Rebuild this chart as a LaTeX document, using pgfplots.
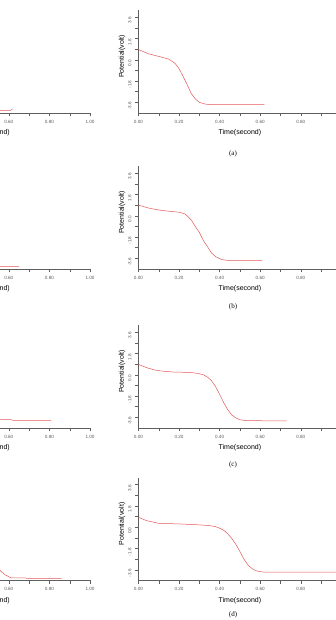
\documentclass[border=0pt]{standalone}
\usepackage{pgfplots}
\pgfplotsset{compat=1.18}
\usepackage{fontspec}
\setmainfont{Liberation Sans}
\newfontfamily\capfont{Liberation Serif}

\definecolor{curve}{RGB}{228,88,88}
\definecolor{axisgray}{RGB}{95,95,95}
\definecolor{ticktext}{RGB}{90,90,90}

\tikzset{capstyle/.style={font=\capfont\fontsize{7}{8}\selectfont}}

\pgfplotsset{
  panel/.style={
    scale only axis, width=203pt, height=103pt,
    xmin=0, xmax=1, ymin=-4.5, ymax=4.2,
    axis x line=bottom, axis y line=left,
    axis line style={draw=axisgray, line width=0.5pt, -},
    tick align=outside, major tick length=3.5pt, minor tick length=3.5pt,
    every tick/.style={draw=axisgray, line width=0.4pt},
    xtick={0,0.2,0.4,0.6,0.8,1.0},
    xticklabels={0.00,0.20,0.40,0.60,0.80,1.00},
    minor xtick={0.1,0.3,0.5,0.7,0.9},
    ytick={-3.6,-1.8,0,1.8,3.6},
    yticklabels={-3.6,-1.8,0.0,1.8,3.6},
    minor ytick={-2.7,-0.9,0.9,2.7},
    xticklabel style={font=\fontsize{4.6}{5}\selectfont, text=ticktext},
    yticklabel style={font=\fontsize{4.6}{5}\selectfont, text=ticktext, rotate=90, anchor=south, xshift=-3.5pt},
    xlabel={Time(second)},
    xlabel style={font=\fontsize{7}{8}\selectfont, at={(axis description cs:0.5,-0.194)}, anchor=center},
    ylabel style={font=\fontsize{7}{8}\selectfont, at={(axis description cs:-0.081,0.55)}, anchor=center},
    clip=false,
  },
  % left-hand panels: only their right end falls inside the page
  leftpanel/.style={panel,
    xtick={0.6,0.8,1.0}, xticklabels={0.60,0.80,1.00},
    minor xtick={0.5,0.7,0.9},
    ytick=\empty, minor ytick=\empty},
  trace/.style={color=curve, line width=0.5pt, mark=none},
}

\begin{document}
\begin{tikzpicture}
% ---------------- row (a) ----------------
\begin{axis}[leftpanel, at={(-113pt,507pt)}, anchor=south west]
\addplot[trace] coordinates {
 (0,0.90) (0.05,0.60) (0.10,0.35) (0.15,0.15) (0.18,-0.20) (0.20,-0.70)
 (0.22,-1.50) (0.24,-2.40) (0.26,-3.20) (0.28,-3.80) (0.30,-4.10)
 (0.33,-4.22) (0.36,-4.27) (0.61,-4.27) (0.618,-4.15)};
\end{axis}
\begin{axis}[panel, at={(138.4pt,507pt)}, anchor=south west, ylabel={Potential(volt)}]
\addplot[trace] coordinates {
 (0,0.86) (0.05,0.50) (0.10,0.28) (0.15,0.05) (0.18,-0.30) (0.20,-0.75)
 (0.22,-1.40) (0.24,-2.10) (0.26,-2.85) (0.28,-3.30) (0.30,-3.60)
 (0.33,-3.75) (0.36,-3.80) (0.62,-3.80)};
\node[capstyle] at (axis description cs:0.466,-0.398) {(a)};
\end{axis}

% ---------------- row (b) ----------------
\begin{axis}[leftpanel, at={(-113pt,351pt)}, anchor=south west]
\addplot[trace] coordinates {
 (0,0.90) (0.05,0.65) (0.10,0.48) (0.15,0.38) (0.20,0.30) (0.23,0.15)
 (0.26,-0.35) (0.28,-0.90) (0.30,-1.50) (0.32,-2.30) (0.34,-3.00)
 (0.36,-3.60) (0.38,-4.00) (0.41,-4.22) (0.45,-4.30) (0.65,-4.30)};
\end{axis}
\begin{axis}[panel, at={(138.4pt,351pt)}, anchor=south west, ylabel={Potential(volt)}]
\addplot[trace] coordinates {
 (0,0.90) (0.05,0.65) (0.10,0.48) (0.15,0.38) (0.20,0.30) (0.23,0.15)
 (0.26,-0.35) (0.28,-0.90) (0.30,-1.40) (0.32,-2.10) (0.34,-2.60)
 (0.36,-3.15) (0.38,-3.45) (0.41,-3.70) (0.45,-3.80) (0.61,-3.80)};
\node[capstyle] at (axis description cs:0.466,-0.369) {(b)};
\end{axis}

% ---------------- row (c) ----------------
\begin{axis}[leftpanel, at={(-113pt,192pt)}, anchor=south west]
\addplot[trace] coordinates {
 (0,0.87) (0.04,0.60) (0.08,0.40) (0.12,0.30) (0.18,0.22) (0.25,0.20)
 (0.29,0.12) (0.32,0.00) (0.34,-0.20) (0.36,-0.50) (0.38,-1.00)
 (0.40,-1.65) (0.42,-2.35) (0.44,-2.95) (0.46,-3.40) (0.48,-3.65)
 (0.50,-3.78) (0.53,-3.80) (0.61,-3.80) (0.62,-3.85) (0.81,-3.85)};
\end{axis}
\begin{axis}[panel, at={(138.4pt,192pt)}, anchor=south west, ylabel={Potential(volt)}]
\addplot[trace] coordinates {
 (0,0.87) (0.04,0.60) (0.08,0.40) (0.12,0.30) (0.18,0.22) (0.25,0.20)
 (0.29,0.12) (0.32,0.00) (0.34,-0.20) (0.36,-0.50) (0.38,-1.00)
 (0.40,-1.65) (0.42,-2.35) (0.44,-2.95) (0.46,-3.40) (0.48,-3.65)
 (0.50,-3.80) (0.53,-3.88) (0.73,-3.90)};
\node[capstyle] at (axis description cs:0.466,-0.359) {(c)};
\end{axis}

% ---------------- row (d) ----------------
\begin{axis}[leftpanel, at={(-113pt,39.5pt)}, anchor=south west]
\addplot[trace] coordinates {
 (0,0.84) (0.04,0.56) (0.10,0.33) (0.20,0.28) (0.30,0.20) (0.35,0.14)
 (0.38,0.05) (0.40,-0.08) (0.42,-0.25) (0.44,-0.55) (0.46,-0.95)
 (0.48,-1.45) (0.50,-2.05) (0.52,-2.70) (0.54,-3.25) (0.56,-3.70)
 (0.58,-4.00) (0.61,-4.27) (0.68,-4.27) (0.69,-4.33) (0.86,-4.33)};
\end{axis}
\begin{axis}[panel, at={(138.4pt,39.5pt)}, anchor=south west, ylabel={Potential(volt)}]
\addplot[trace] coordinates {
 (0,0.84) (0.04,0.56) (0.10,0.33) (0.20,0.28) (0.30,0.20) (0.35,0.14)
 (0.38,0.05) (0.40,-0.08) (0.42,-0.25) (0.44,-0.55) (0.46,-0.95)
 (0.48,-1.45) (0.50,-2.05) (0.52,-2.70) (0.54,-3.20) (0.56,-3.50)
 (0.58,-3.68) (0.61,-3.78) (0.65,-3.80) (0.99,-3.80)};
\node[capstyle] at (axis description cs:0.466,-0.335) {(d)};
\end{axis}

% the page shows only this window of the figure
\pgfresetboundingbox
\path[use as bounding box] (0,0) rectangle (335pt,620pt);
\end{tikzpicture}
\end{document}
